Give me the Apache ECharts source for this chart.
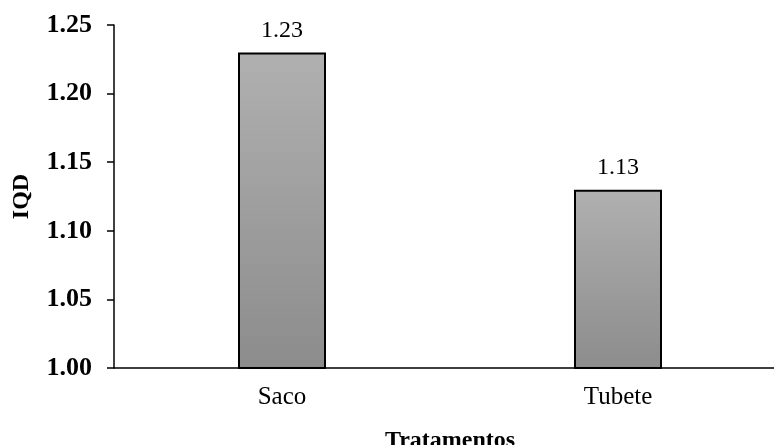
<!DOCTYPE html>
<html><head><meta charset="utf-8">
<script src="https://cdn.jsdelivr.net/npm/echarts@6/dist/echarts.min.js"></script>
<style>html,body{margin:0;padding:0;background:#fff}#c{width:774px;height:445px}</style>
</head><body><div id="c"></div>
<script>
const categories = ['Saco', 'Tubete'];
const values = [1.23, 1.13];
const yTicks = [1.00, 1.05, 1.10, 1.15, 1.20, 1.25];

const chart = echarts.init(document.getElementById('c'));
const serif = '"Liberation Serif", "Times New Roman", serif';
chart.setOption({
  animation: false,
  grid: { left: 114, top: 25, width: 672, height: 343, containLabel: false, outerBoundsMode: 'none' },
  xAxis: {
    type: 'category', data: categories,
    name: 'Tratamentos', nameLocation: 'middle', nameGap: 61,
    nameTextStyle: { fontFamily: serif, fontWeight: 'bold', fontSize: 24, color: '#000' },
    axisLine: { lineStyle: { color: '#000', width: 1.5 } },
    axisTick: { show: false },
    axisLabel: { fontFamily: serif, fontSize: 25, color: '#000', margin: 17 }
  },
  yAxis: {
    type: 'value', min: yTicks[0], max: yTicks[yTicks.length - 1], interval: 0.05,
    name: 'IQD', nameLocation: 'middle', nameGap: 80, nameRotate: 90,
    nameTextStyle: { fontFamily: serif, fontWeight: 'bold', fontSize: 24, color: '#000' },
    axisLine: { show: true, lineStyle: { color: '#000', width: 1.5 } },
    axisTick: { show: true, length: 7, lineStyle: { color: '#000', width: 1.5 } },
    splitLine: { show: false },
    axisLabel: { fontFamily: serif, fontWeight: 'bold', fontSize: 26, color: '#000', margin: 22,
      padding: [4, 0, 0, 0], formatter: v => v.toFixed(2) }
  },
  series: [{
    type: 'bar', data: values, barWidth: 88,
    itemStyle: {
      color: new echarts.graphic.LinearGradient(0, 0, 0, 1, [
        { offset: 0, color: '#b0b0b0' }, { offset: 1, color: '#8c8c8c' }
      ]),
      borderColor: '#000', borderWidth: 2
    },
    label: { show: true, position: 'top', distance: 10, fontFamily: serif, fontSize: 24, color: '#000',
      formatter: p => p.value.toFixed(2) }
  }]
});
</script></body></html>
